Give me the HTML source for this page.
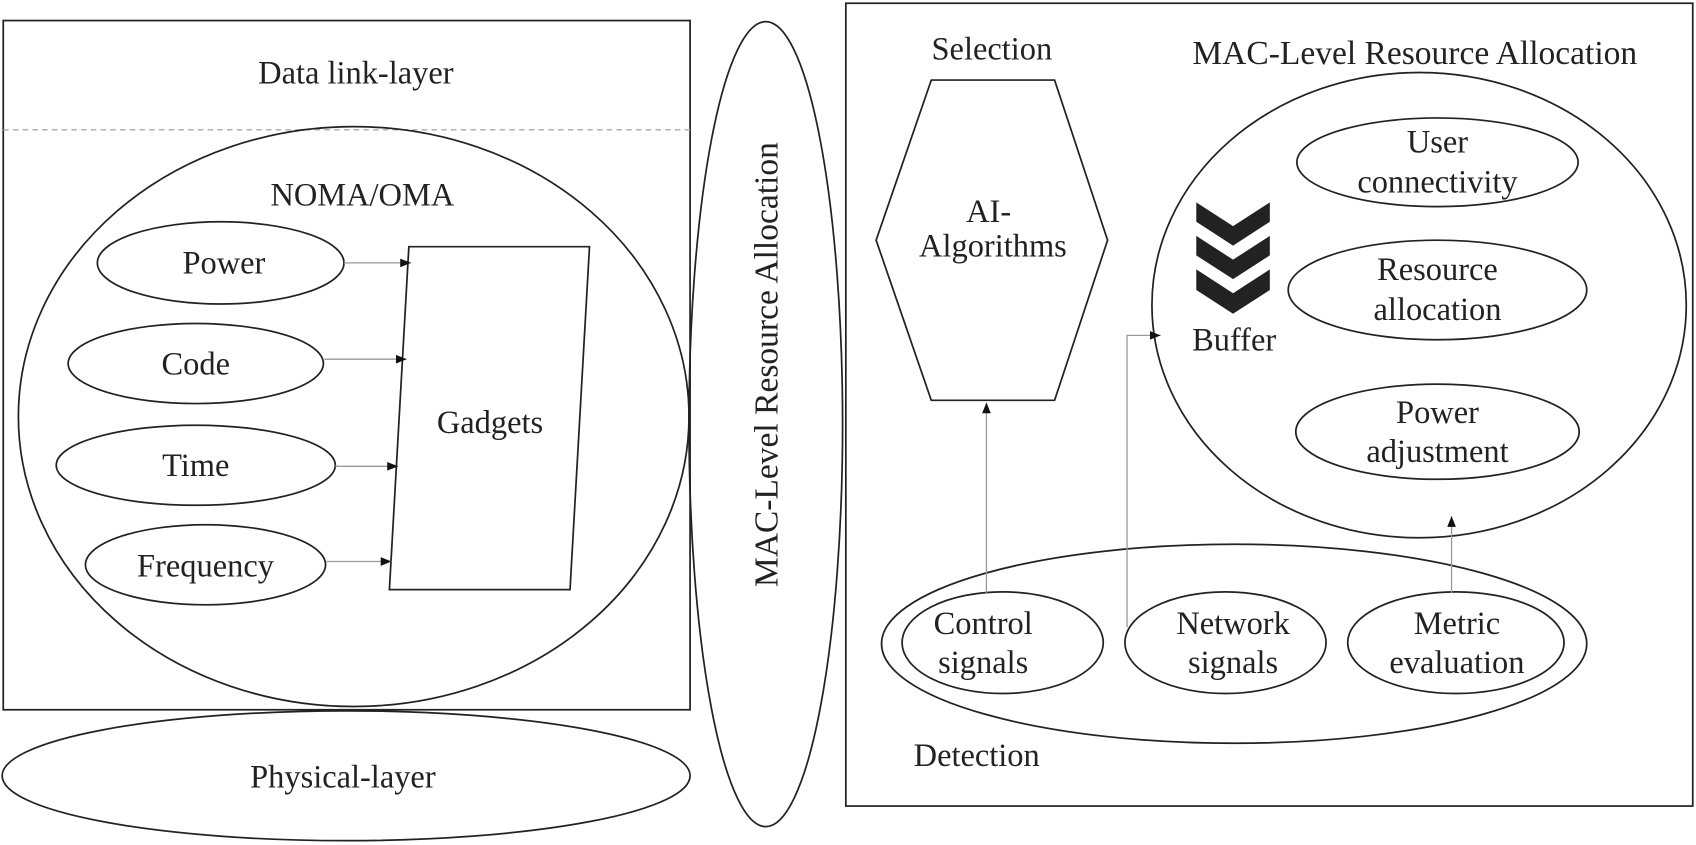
<!DOCTYPE html>
<html><head><meta charset="utf-8"><style>
html,body{margin:0;padding:0;background:#fff;}
svg{display:block;}
text{font-family:"Liberation Serif",serif;font-size:30px;fill:#222;text-anchor:middle;}
</style></head><body>
<svg width="1696" height="845" viewBox="0 0 1568 781" preserveAspectRatio="none" xmlns="http://www.w3.org/2000/svg">
<defs><marker id="a" markerWidth="10" markerHeight="8" refX="10" refY="4" orient="auto" markerUnits="userSpaceOnUse"><path d="M0,0 L10,4 L0,8 Z" fill="#111"/></marker></defs>
<g fill="none" stroke="#222" stroke-width="1.6">
<rect x="3" y="19" width="635" height="637"/>
<line x1="3" y1="120" x2="638" y2="120" stroke="#aaa" stroke-dasharray="5,4" stroke-width="1.2"/>
<ellipse cx="327" cy="385" rx="310" ry="268"/>
<ellipse cx="204" cy="243" rx="114" ry="38"/>
<ellipse cx="181" cy="336" rx="118" ry="37"/>
<ellipse cx="181" cy="430" rx="129" ry="37"/>
<ellipse cx="190" cy="522" rx="111" ry="37"/>
<polygon points="378,228 545,228 527,545 360,545"/>
<ellipse cx="708" cy="392" rx="71" ry="372"/>
<ellipse cx="320" cy="717" rx="318" ry="60"/>
<rect x="782" y="3" width="783" height="742"/>
<polygon points="861,74 975,74 1024,222 975,370 861,370 810,222"/>
<ellipse cx="1312" cy="282" rx="247" ry="215"/>
<ellipse cx="1329" cy="150" rx="130" ry="41"/>
<ellipse cx="1329" cy="268" rx="138" ry="46"/>
<ellipse cx="1329" cy="399" rx="131" ry="44"/>
<ellipse cx="1141" cy="595" rx="326" ry="92"/>
<ellipse cx="927" cy="594" rx="93" ry="47"/>
<ellipse cx="1133" cy="594" rx="93" ry="47"/>
<ellipse cx="1346" cy="594" rx="100" ry="47"/>
</g>
<g fill="none" stroke="#999" stroke-width="1.2" marker-end="url(#a)">
<line x1="318" y1="243" x2="380" y2="243"/>
<line x1="300" y1="332" x2="376" y2="332"/>
<line x1="310" y1="431" x2="368" y2="431"/>
<line x1="302" y1="519" x2="362" y2="519"/>
<line x1="912" y1="548" x2="912" y2="372"/>
<polyline points="1042,580 1042,310 1073,310"/>
<line x1="1342" y1="548" x2="1342" y2="477"/>
</g>
<g fill="#222">
<polygon points="1106,187 1140,209 1174,187 1174,205 1140,227 1106,205"/>
<polygon points="1106,218 1140,240 1174,218 1174,236 1140,258 1106,236"/>
<polygon points="1106,249 1140,271 1174,249 1174,268 1140,290 1106,268"/>
</g>
<text x="329" y="77">Data link-layer</text>
<text x="335" y="190">NOMA/OMA</text>
<text x="207" y="253">Power</text>
<text x="181" y="346">Code</text>
<text x="181" y="440">Time</text>
<text x="190" y="533">Frequency</text>
<text x="453" y="400">Gadgets</text>
<text x="317" y="728">Physical-layer</text>
<text transform="translate(719,337) rotate(-90)" style="font-size:31px">MAC-Level Resource Allocation</text>
<text x="917" y="55">Selection</text>
<text x="1308" y="59" style="font-size:31px">MAC-Level Resource Allocation</text>
<text x="914" y="205">AI-</text>
<text x="918" y="237">Algorithms</text>
<text x="1329" y="141">User</text>
<text x="1329" y="178">connectivity</text>
<text x="1329" y="259">Resource</text>
<text x="1329" y="296">allocation</text>
<text x="1329" y="391">Power</text>
<text x="1329" y="427">adjustment</text>
<text x="1141" y="324">Buffer</text>
<text x="909" y="586">Control</text>
<text x="909" y="622">signals</text>
<text x="1140" y="586">Network</text>
<text x="1140" y="622">signals</text>
<text x="1347" y="586">Metric</text>
<text x="1347" y="622">evaluation</text>
<text x="903" y="708">Detection</text>
</svg>
</body></html>
